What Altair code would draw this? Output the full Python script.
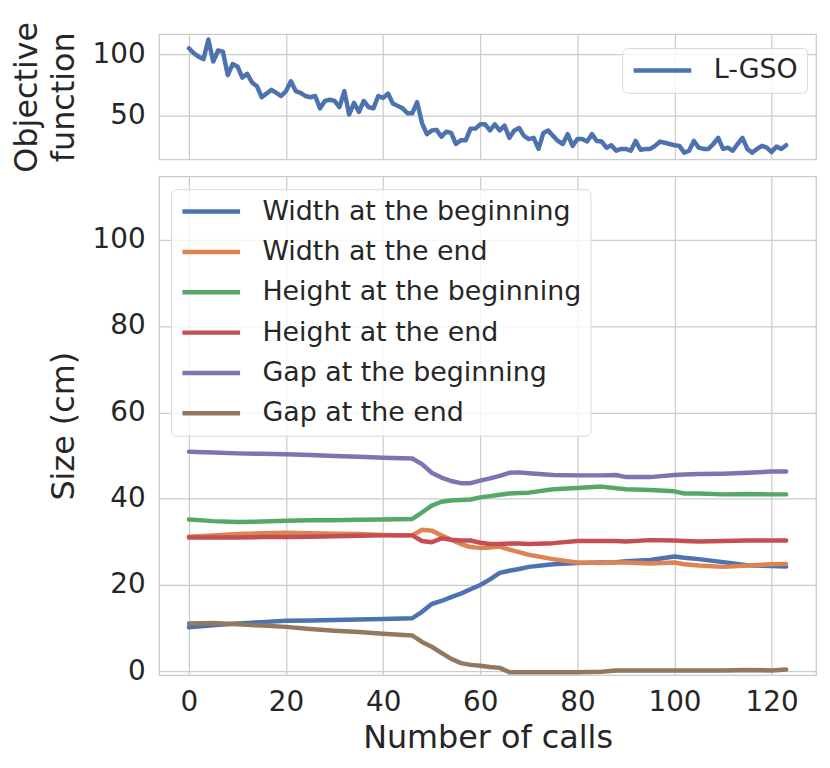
import altair as alt
import pandas as pd

# ---------------- data ----------------
calls = list(range(124))
objective = [104.8, 100.8, 98, 96, 112, 94, 103, 102, 83, 92,
             90, 81, 84, 77, 74, 65, 68, 71, 68.5, 66,
             70, 78, 70, 68.5, 66, 65, 66, 56, 62, 63,
             62, 57, 70, 51, 60.5, 53, 62, 57, 56, 66,
             64.5, 68, 60, 58, 56, 52, 52, 61, 44, 35,
             38, 38.5, 33, 37, 36, 27, 30, 30, 39.5, 39.5,
             43, 43, 38, 43, 38, 42, 32, 38, 40, 33.6,
             31, 32, 23, 36, 38, 33.6, 29.5, 27, 35, 25.5,
             31, 31, 29, 35, 29.5, 29, 24, 26, 21.5, 23,
             23, 21.5, 29.5, 22.3, 23, 23, 25.5, 29, 28, 27,
             26, 25.5, 20, 21.5, 29.5, 24, 23, 23, 27, 32,
             23, 24, 21.5, 27, 32, 23, 20, 23, 25.5, 24,
             20.5, 25, 23, 26]

size_calls = [0, 5, 10, 15, 20, 25, 30, 35, 40, 46, 48, 50, 52, 54, 56, 58, 60, 62,
              64, 66, 68, 70, 75, 80, 85, 88, 90, 95, 100, 102, 105, 110, 115, 120, 123]
width_begin = [10.2, 10.7, 11.1, 11.4, 11.7, 11.8, 11.9, 12.0, 12.1, 12.3, 13.8, 15.6,
               16.3, 17.2, 18.0, 19.0, 20.0, 21.3, 22.8, 23.3, 23.7, 24.2, 24.8, 25.1,
               25.2, 25.3, 25.5, 25.8, 26.6, 26.3, 26.0, 25.3, 24.6, 24.4, 24.3]
width_end = [31.2, 31.5, 31.8, 32.0, 32.1, 32.0, 31.9, 31.8, 31.6, 31.5, 32.8, 32.6,
             31.5, 30.5, 29.5, 28.8, 28.6, 28.7, 28.9, 28.2, 27.6, 27.0, 26.0, 25.2,
             25.1, 25.2, 25.2, 25.0, 25.2, 24.8, 24.5, 24.2, 24.5, 24.8, 24.9]
height_begin = [35.2, 34.8, 34.6, 34.7, 34.9, 35.0, 35.0, 35.1, 35.2, 35.3, 36.8, 38.4,
                39.3, 39.6, 39.7, 39.8, 40.3, 40.6, 40.9, 41.2, 41.3, 41.4, 42.2, 42.5,
                42.8, 42.4, 42.2, 42.0, 41.7, 41.2, 41.2, 41.0, 41.1, 41.0, 41.0]
height_end = [31.0, 31.0, 31.0, 31.1, 31.1, 31.2, 31.3, 31.4, 31.5, 31.5, 30.2, 29.9,
              30.8, 30.5, 30.3, 30.3, 29.8, 29.5, 29.5, 29.6, 29.6, 29.5, 29.7, 30.2,
              30.2, 30.2, 30.1, 30.4, 30.3, 30.2, 30.1, 30.2, 30.3, 30.3, 30.3]
gap_begin = [50.9, 50.7, 50.5, 50.4, 50.3, 50.1, 49.9, 49.7, 49.5, 49.3, 48.0, 46.0,
             44.9, 44.1, 43.6, 43.6, 44.2, 44.7, 45.3, 46.0, 46.1, 45.9, 45.5, 45.4,
             45.4, 45.5, 45.0, 45.0, 45.5, 45.6, 45.7, 45.8, 46.0, 46.3, 46.3]
gap_end = [11.1, 11.2, 10.9, 10.6, 10.3, 9.8, 9.4, 9.1, 8.7, 8.3, 6.8, 5.7,
           4.3, 2.9, 1.9, 1.5, 1.3, 1.0, 0.8, -0.2, -0.2, -0.2, -0.2, -0.2,
           -0.1, 0.2, 0.2, 0.2, 0.2, 0.2, 0.2, 0.2, 0.3, 0.2, 0.4]

series_names = ["Width at the beginning", "Width at the end", "Height at the beginning",
                "Height at the end", "Gap at the beginning", "Gap at the end"]
series_values = [width_begin, width_end, height_begin, height_end, gap_begin, gap_end]
series_colors = ["#4C72B0", "#DD8452", "#55A868", "#C44E52", "#8172B3", "#937860"]

x_ticks = [0, 20, 40, 60, 80, 100, 120]

# ---------------- tables ----------------
top_df = pd.DataFrame({"calls": calls, "value": objective, "series": "L-GSO"})
rows = []
for name, vals in zip(series_names, series_values):
    for c, v in zip(size_calls, vals):
        rows.append({"calls": c, "value": v, "series": name})
bottom_df = pd.DataFrame(rows)

FONT = "DejaVu Sans"
TXT = "#262626"
x_scale = alt.Scale(domain=[-6.15, 129.15], nice=False, zero=False)

legend_common = dict(
    title=None, orient="none", symbolType="stroke", symbolStrokeWidth=4.5,
    symbolSize=3364, clipHeight=27, labelOffset=20, labelFontSize=27, labelFont=FONT,
    labelColor=TXT, labelLimit=600, padding=9, rowPadding=12.6,
    fillColor="rgba(255,255,255,0.8)", strokeColor="#d9d9d9", cornerRadius=5,
)

top = alt.Chart(top_df).mark_line(strokeWidth=4.5, strokeCap="round", strokeJoin="round").encode(
    x=alt.X("calls:Q", scale=x_scale,
            axis=alt.Axis(values=x_ticks, labels=False, title=None)),
    y=alt.Y("value:Q", scale=alt.Scale(domain=[14.5, 116.3], nice=False, zero=False),
            axis=alt.Axis(values=[50, 100], title=["Objective", "function"],
                          titleLineHeight=37, titlePadding=12)),
    color=alt.Color("series:N", scale=alt.Scale(domain=["L-GSO"], range=["#4C72B0"]),
                    legend=alt.Legend(legendX=466, legendY=14, **legend_common)),
).properties(width=661, height=126)

bottom = alt.Chart(bottom_df).mark_line(strokeWidth=4.5, strokeCap="round", strokeJoin="round").encode(
    x=alt.X("calls:Q", scale=x_scale,
            axis=alt.Axis(values=x_ticks, title="Number of calls", titlePadding=6)),
    y=alt.Y("value:Q", scale=alt.Scale(domain=[-0.9, 114.7], nice=False, zero=False),
            axis=alt.Axis(values=[0, 20, 40, 60, 80, 100], title="Size (cm)", titlePadding=12)),
    color=alt.Color("series:N", sort=series_names,
                    scale=alt.Scale(domain=series_names, range=series_colors),
                    legend=alt.Legend(legendX=12, legendY=13, **legend_common)),
).properties(width=661, height=502)

chart = alt.vconcat(top, bottom, spacing=2).resolve_scale(
    color="independent"
).properties(
    padding={"left": 1, "top": 10, "right": 5, "bottom": 5}
).configure_view(
    stroke="#cccccc", strokeWidth=1.25
).configure_axis(
    domain=False, ticks=False, grid=True, gridColor="#cccccc", gridWidth=1.25,
    labelFont=FONT, labelFontSize=28, labelColor=TXT, labelPadding=14,
    titleFont=FONT, titleFontSize=32, titleColor=TXT, titleFontWeight="normal",
)

chart.save("out.html", embed_options={"renderer": "svg", "actions": False})
